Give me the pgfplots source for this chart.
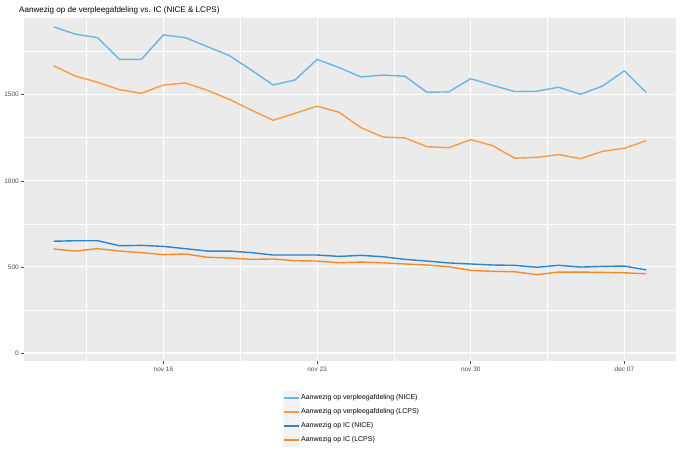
\documentclass[border=0pt]{standalone}
\usepackage{pgfplots}
\usepackage{pgfplotstable}
\pgfplotsset{compat=1.18}
\usepackage{fontspec}
\setmainfont{Liberation Sans}

\definecolor{panelbg}{HTML}{EBEBEB}
\definecolor{keybg}{HTML}{F2F2F2}
\definecolor{ticktext}{HTML}{4D4D4D}
\definecolor{wardnice}{HTML}{6BB6E0}
\definecolor{wardlcps}{HTML}{F99B45}
\definecolor{icnice}{HTML}{2B85CC}
\definecolor{iclcps}{HTML}{F88A26}

% day 0 = 11 nov
\pgfplotstableread{
day nicew lcpsw niceic lcpsic
0  1893 1668 649 604
1  1851 1607 652 592
2  1831 1572 652 606
3  1705 1529 623 592
4  1705 1508 625 583
5  1847 1556 619 571
6  1831 1568 606 575
7  1779 1525 592 556
8  1727 1473 592 552
9  1643 1411 583 544
10 1556 1351 569 546
11 1585 1392 569 536
12 1705 1433 569 534
13 1657 1398 561 524
14 1603 1308 567 528
15 1614 1254 559 524
16 1607 1249 544 517
17 1514 1198 534 511
18 1516 1192 523 501
19 1593 1239 517 480
20 1554 1204 511 474
21 1518 1131 509 472
22 1520 1136 498 455
23 1543 1152 509 470
24 1502 1128 499 470
25 1550 1171 503 468
26 1638 1189 505 466
27 1512 1233 482 460
}\zorgdata

\begin{document}
\begin{tikzpicture}
\path[use as bounding box] (-24bp,-91.7bp) rectangle (656bp,361.3bp);
\begin{axis}[
  at={(0,0)}, anchor=south west,
  scale only axis,
  width=652bp, height=343.3bp,
  xmin=-1.35, xmax=28.35,
  ymin=-48, ymax=1945,
  axis background/.style={fill=panelbg},
  axis line style={draw=none},
  grid=both,
  major grid style={white, line width=1.1bp},
  minor grid style={white, line width=0.55bp},
  xtick={5,12,19,26},
  xticklabels={nov 16, nov 23, nov 30, dec 07},
  minor xtick={1.5,8.5,15.5,22.5},
  ytick={0,500,1000,1500},
  minor ytick={250,750,1250,1750},
  tick pos=left,
  tick align=outside,
  major tick length=2.75bp,
  minor tick length=0pt,
  tick style={ticktext, line width=0.5bp},
  /pgf/number format/assume math mode=true,
  /pgf/number format/1000 sep={},
  ticklabel style={font=\fontsize{6.5}{7.5}\selectfont, text=ticktext},
  xticklabel style={yshift=1bp},
  yticklabel style={xshift=1bp},
  title={Aanwezig op de verpleegafdeling vs. IC (NICE \& LCPS)},
  title style={font=\fontsize{8.1}{9.5}\selectfont, anchor=base west,
    at={(axis description cs:-0.0077,1.0)}, inner sep=0pt, yshift=0pt},
  legend style={
    at={(axis description cs:0.397,-0.086)}, anchor=north west,
    draw=none, fill=none, inner sep=0pt,
    font=\fontsize{7}{8}\selectfont,
    nodes={inner sep=0pt, text height=5.2bp, text depth=1.5bp},
    row sep=0pt,
    legend cell align=left,
  },
  legend image code/.code={
    \fill[keybg, draw=none] (0bp,-7bp) rectangle (17bp,7bp);
    \draw[line width=1.4bp] (1bp,0bp) -- (16bp,0bp);
  },
  every axis plot/.append style={line width=1.4bp, line join=round},
]
\addplot[wardnice, no marks] table[x=day, y=nicew] {\zorgdata};
\addlegendentry{\,Aanwezig op verpleegafdeling (NICE)}
\addplot[wardlcps, no marks] table[x=day, y=lcpsw] {\zorgdata};
\addlegendentry{\,Aanwezig op verpleegafdeling (LCPS)}
\addplot[icnice, no marks] table[x=day, y=niceic] {\zorgdata};
\addlegendentry{\,Aanwezig op IC (NICE)}
\addplot[iclcps, no marks] table[x=day, y=lcpsic] {\zorgdata};
\addlegendentry{\,Aanwezig op IC (LCPS)}
\end{axis}
\end{tikzpicture}
\end{document}
